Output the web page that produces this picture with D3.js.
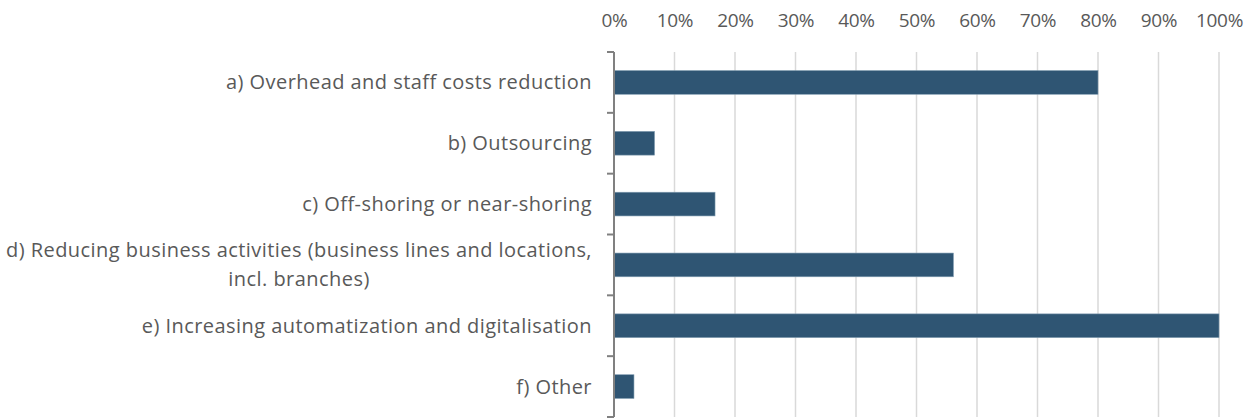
<!DOCTYPE html>
<html><head><meta charset="utf-8">
<script src="https://cdn.jsdelivr.net/npm/d3@7"></script>
<style>
html,body{margin:0;padding:0;background:#fff;}
svg{display:block;}
text{font-family:"Open Sans","Noto Sans",sans-serif;fill:#595959;}
</style></head><body>
<svg id="chart" width="1257" height="419"></svg>
<script>
const categories = [
  ["a) Overhead and staff costs reduction"],
  ["b) Outsourcing"],
  ["c) Off-shoring or near-shoring"],
  ["d) Reducing business activities (business lines and locations,", "incl. branches)"],
  ["e) Increasing automatization and digitalisation"],
  ["f) Other"]
];
const values = [0.80, 0.067, 0.167, 0.561, 1.0, 0.033];
const tickValues = [0,0.1,0.2,0.3,0.4,0.5,0.6,0.7,0.8,0.9,1.0];

const svg = d3.select("#chart");
const m = {left:614, top:52, width:605, height:365};
const g = svg.append("g").attr("transform",`translate(${m.left},${m.top})`);
const ids = categories.map((c,i)=>i);
const x = d3.scaleLinear().domain([0,1]).range([0,m.width]);
const y = d3.scaleBand().domain(ids).range([0,m.height]).paddingInner(0.61).paddingOuter(0.305);

// gridlines
g.selectAll(".grid").data(tickValues.slice(1)).join("line")
  .attr("x1",d=>x(d)).attr("x2",d=>x(d)).attr("y1",0).attr("y2",m.height)
  .attr("stroke","#d9d9d9").attr("stroke-width",1.5);

// top axis
const xAxis = g.append("g").call(d3.axisTop(x).tickValues(tickValues).tickFormat(d3.format(".0%")).tickSize(0).tickPadding(25));
xAxis.select(".domain").remove();
xAxis.selectAll("text").attr("font-size",19).attr("font-family",null).style("fill","#595959").style("letter-spacing","-0.3px");

// bars
g.selectAll(".bar").data(values).join("rect")
  .attr("x",x(0)).attr("y",(d,i)=>y(i)).attr("width",d=>x(d)).attr("height",y.bandwidth())
  .attr("fill","#2F5573").attr("stroke","#7f9bb0").attr("stroke-width",0.6);

// left axis line with boundary ticks
const step = m.height/categories.length;
const bounds = d3.range(categories.length+1).map(i=>i*step);
g.append("line").attr("x1",0).attr("x2",0).attr("y1",0).attr("y2",m.height)
  .attr("stroke","#808080").attr("stroke-width",2);
g.selectAll(".btick").data(bounds).join("line")
  .attr("x1",-7).attr("x2",0).attr("y1",d=>d).attr("y2",d=>d)
  .attr("stroke","#808080").attr("stroke-width",2);

// category labels
const lab = g.selectAll(".lab").data(categories).join("text")
  .attr("font-size",20).style("letter-spacing","0.45px");
lab.each(function(lines,i){
  const t = d3.select(this);
  const cy = y(i)+y.bandwidth()/2;
  if(lines.length===1){
    t.attr("text-anchor","end").attr("x",-22).attr("y",cy).attr("dy","0.35em").text(lines[0]);
  }
});
// multi-line label: right-aligned block, centred lines
lab.filter(d=>d.length>1).each(function(lines){
  const idx = categories.indexOf(lines);
  const t = d3.select(this).attr("text-anchor","middle");
  const cy = y(idx)+y.bandwidth()/2;
  const tmp = t.append("tspan").text(lines[0]);
  const w = this.getComputedTextLength();
  tmp.remove();
  const cx = -22 - w/2;
  lines.forEach((ln,k)=>{
    t.append("tspan").attr("x",cx).attr("y",cy + (k-(lines.length-1)/2)*29).attr("dy","0.35em").text(ln);
  });
});
</script></body></html>
